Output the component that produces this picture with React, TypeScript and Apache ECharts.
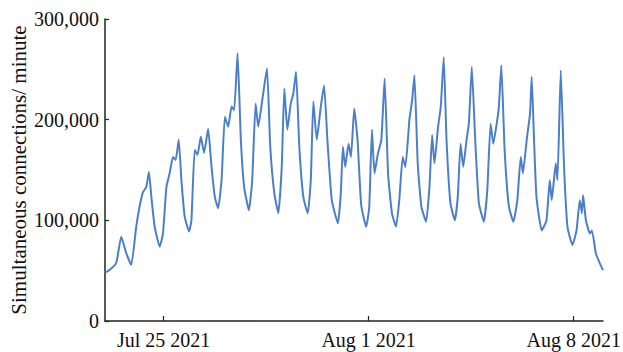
import React, { useEffect, useRef } from "react";
import * as echarts from "echarts";

// Hours since Jul 23 2021 00:00 (local time)
const hoursSinceStart = [
  0, 3.7, 9.2, 13.3, 17.4, 21.5, 25.6, 28.3, 31.1, 33.8, 36.0, 38.0, 40.7, 44.8,
  47.5, 50.3, 53.0, 55.7, 57.9, 60.4, 62.6, 65.3, 68.9, 70.8, 73.5, 75.8, 78.5,
  81.2, 84.5, 87.3, 90.0, 92.7, 95.5, 98.2, 100.9, 103.7, 105.8, 108.6, 111.3,
  114.0, 117.9, 120.6, 123.4, 125.5, 128.8, 132.7, 135.4, 138.7, 142.0, 144.8,
  146.9, 149.4, 152.2, 154.3, 156.5, 159.2, 162.5, 166.1, 168.6, 170.7, 173.5,
  176.8, 179.5, 182.2, 185.8, 190.8, 193.2, 194.9, 196.8, 199.5, 201.5, 204.2,
  206.9, 209.9, 214.0, 216.5, 218.7, 220.8, 223.6, 226.4, 229.1, 231.9, 235.1,
  238.4, 241.1, 243.9, 246.1, 249.4, 251.6, 253.5, 256.2, 259.2, 263.1, 265.8,
  268.0, 269.9, 272.9, 275.1, 277.5, 279.8, 283.0, 286.6, 289.0, 291.3, 293.5,
  296.2, 298.1, 300.5, 303.3, 306.3, 310.4, 313.2, 315.9, 318.1, 321.4, 322.7,
  324.7, 327.4, 330.9, 334.6, 337.8, 340.6, 342.4, 345.5, 348.2, 349.6, 351.5,
  353.5, 357.8, 361.7, 364.4, 366.0, 369.3, 370.7, 373.4, 376.1, 378.9, 383.0,
  386.3, 389.0, 390.7, 391.7, 394.0, 397.2, 398.9, 402.2, 405.5, 408.0,
];

// Simultaneous connections per minute
const connections = [
  48000, 50600, 57600, 83700, 67500, 55600, 93700, 113500, 128000, 133000, 148000,
  123000, 93600, 73800, 87000, 133000, 147000, 163000, 160000, 180000, 140000,
  103600, 89000, 100000, 170000, 165000, 183000, 167000, 191000, 153000, 123000,
  112000, 140000, 203000, 193000, 213000, 209500, 266000, 180000, 133000, 110000,
  140000, 216000, 193000, 219000, 251000, 173000, 127000, 107000, 153000, 231000,
  190000, 216000, 226000, 247600, 173000, 123000, 107000, 140000, 218000, 180000,
  213000, 234000, 180000, 120000, 97000, 127000, 173000, 153000, 176000, 163000,
  211000, 180000, 115000, 93600, 113500, 190000, 146700, 166500, 180000, 241000,
  146700, 107000, 93600, 120000, 163000, 153000, 200000, 219000, 244000, 156600,
  113500, 98600, 133000, 184700, 156600, 193000, 213000, 262000, 180000, 117000,
  100000, 123000, 176000, 153000, 180000, 196000, 252500, 180000, 117000, 98600,
  130000, 196000, 176000, 200000, 213000, 254000, 170000, 113500, 98600, 120000,
  163000, 146700, 180000, 206000, 242600, 180000, 123000, 90000, 100000, 140000,
  120000, 156600, 140000, 249000, 153000, 93600, 75500, 90000, 120000, 107000,
  125000, 100000, 87000, 90000, 67000, 57000, 50600,
];

const tickDates = [
  [2021, 6, 25],
  [2021, 7, 1],
  [2021, 7, 8],
];
const tickLabels = ["Jul 25 2021", "Aug 1 2021", "Aug 8 2021"];
const yTicks = [0, 100000, 200000, 300000];

export default function App() {
  const ref = useRef<HTMLDivElement>(null);
  useEffect(() => {
    if (!ref.current) return;
    const chart = echarts.init(ref.current, undefined, { renderer: "svg" });
    const start = new Date(2021, 6, 23).getTime();
    const end = new Date(2021, 7, 9).getTime();
    const tickTimes = tickDates.map(([y, m, d]) => new Date(y, m, d).getTime());
    const data = hoursSinceStart.map((h, i) => [start + h * 3600000, connections[i]]);
    const font = "'Liberation Serif', 'Times New Roman', serif";
    chart.setOption({
      animation: false,
      grid: {
        left: 105,
        right: 20,
        top: 19,
        bottom: 31,
        containLabel: false,
        outerBoundsMode: "none",
      },
      xAxis: {
        type: "value",
        min: start,
        max: end,
        splitLine: { show: false },
        axisLine: { show: true, lineStyle: { color: "#222", width: 1.5 } },
        axisTick: {
          show: true,
          inside: true,
          length: 5,
          customValues: tickTimes,
          lineStyle: { color: "#222", width: 1.2 },
        },
        axisLabel: {
          customValues: tickTimes,
          margin: 9,
          color: "#111",
          fontFamily: font,
          fontSize: 20,
          hideOverlap: false,
          formatter: (v: number) => {
            let best = 0;
            tickTimes.forEach((t, i) => {
              if (Math.abs(t - v) < Math.abs(tickTimes[best] - v)) best = i;
            });
            return tickLabels[best];
          },
        },
      },
      yAxis: {
        type: "value",
        min: yTicks[0],
        max: yTicks[yTicks.length - 1],
        interval: 100000,
        name: "Simultaneous connections/ minute",
        nameLocation: "middle",
        nameRotate: 90,
        nameGap: 76,
        nameMoveOverlap: false,
        nameTextStyle: { fontFamily: font, fontSize: 21, color: "#111" },
        splitLine: { show: false },
        axisLine: { show: true, lineStyle: { color: "#222", width: 1.5 } },
        axisTick: { show: true, inside: true, length: 4, lineStyle: { color: "#222", width: 1.2 } },
        axisLabel: {
          margin: 6,
          color: "#111",
          fontFamily: font,
          fontSize: 20,
          formatter: (v: number) => v.toLocaleString("en-US"),
        },
      },
      series: [
        {
          type: "line",
          data,
          showSymbol: false,
          symbol: "none",
          smooth: 0.15,
          lineStyle: { color: "#4b80c8", width: 2 },
        },
      ],
    });
    return () => chart.dispose();
  }, []);
  return (
    <div
      ref={ref}
      style={{ position: "absolute", left: 0, top: 0, width: 623, height: 352 }}
    />
  );
}
